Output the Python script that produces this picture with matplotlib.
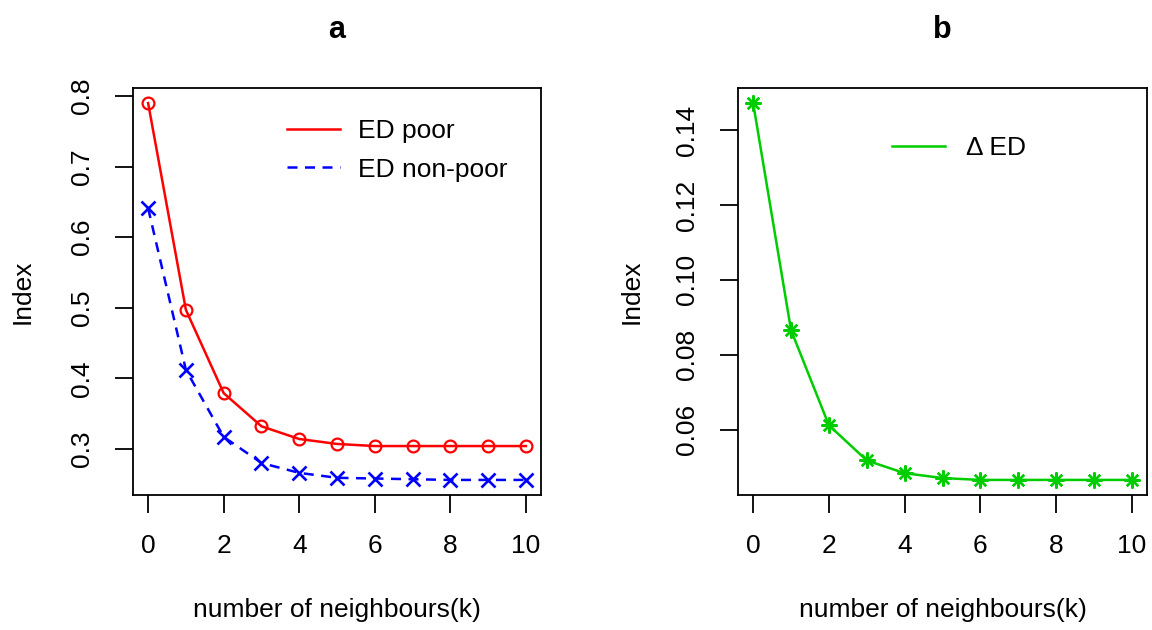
import matplotlib
matplotlib.use("Agg")
import matplotlib.pyplot as plt
import numpy as np

plt.rcParams['font.family'] = ['Liberation Sans', 'DejaVu Sans']

k = list(range(11))
ed_poor = [0.790, 0.497, 0.379, 0.332, 0.314, 0.307, 0.304, 0.304, 0.304, 0.304, 0.304]
ed_nonpoor = [0.641, 0.412, 0.317, 0.280, 0.266, 0.259, 0.258, 0.257, 0.256, 0.256, 0.256]
delta_ed = [0.1472, 0.0866, 0.0612, 0.0518, 0.0484, 0.0471, 0.0466, 0.0466, 0.0466, 0.0466, 0.0466]

xticks = [0, 2, 4, 6, 8, 10]
yticks_a = [0.3, 0.4, 0.5, 0.6, 0.7, 0.8]
yticks_b = [0.06, 0.08, 0.10, 0.12, 0.14]

W, H = 1152, 630
fig = plt.figure(figsize=(W/100, H/100), dpi=100)
axA = fig.add_axes([133/W, 1-495/H, 408/W, 407/H])
axB = fig.add_axes([738/W, 1-495/H, 409/W, 407/H])

fs = 19

def rpad(vals):
    lo, hi = min(vals), max(vals)
    p = (hi - lo) * 0.04
    return lo - p, hi + p

axA.plot(k, ed_poor, color='#FF0000', lw=1.8, marker='o', ms=8.5, mfc='none', mew=1.6, label='ED poor')
axA.plot(k, ed_nonpoor, color='#0000FF', lw=1.8, ls=(0, (4, 3)), marker='x', ms=10.5, mew=1.9, label='ED non-poor')
axA.set_xlim(rpad(k))
axA.set_ylim(rpad(ed_poor + ed_nonpoor))
axA.set_xticks(xticks)
axA.set_yticks(yticks_a)
axA.set_yticklabels([f"{v:.1f}" for v in yticks_a], rotation=90, va='center')
axA.set_ylabel('Index', fontsize=fs)
axA.yaxis.set_label_coords((23-133)/408, 0.5)
axA.set_xlabel('number of neighbours(k)', fontsize=fs)
axA.xaxis.set_label_coords(0.5, (495-610)/407)
axA.xaxis.label.set_va('center')
axA.yaxis.label.set_va('center')
legA = axA.legend(loc='upper right', frameon=False, fontsize=fs, handlelength=2.0,
                  handletextpad=0.7, bbox_to_anchor=((508-133)/408, (495-119)/407),
                  borderaxespad=0, borderpad=0, labelspacing=0.55)
for h in legA.legend_handles:
    h.set_marker('')

axB.plot(k, delta_ed, color='#00CD00', lw=1.8, marker=(8, 2, 0), ms=11.5, mew=1.7, label='Δ ED')
axB.set_xlim(rpad(k))
axB.set_ylim(rpad(delta_ed))
axB.set_xticks(xticks)
axB.set_yticks(yticks_b)
axB.set_yticklabels([f"{v:.2f}" for v in yticks_b], rotation=90, va='center')
axB.set_ylabel('Index', fontsize=fs)
axB.yaxis.set_label_coords((632-738)/409, 0.5)
axB.set_xlabel('number of neighbours(k)', fontsize=fs)
axB.xaxis.set_label_coords(0.5, (495-610)/407)
axB.xaxis.label.set_va('center')
axB.yaxis.label.set_va('center')
legB = axB.legend(loc='upper left', frameon=False, fontsize=fs, handlelength=2.0,
                  handletextpad=0.8, bbox_to_anchor=((892-738)/409, (495-136)/407),
                  borderaxespad=0, borderpad=0)
for h in legB.legend_handles:
    h.set_marker('')

fig.text(337/W, 1-30/H, 'a', fontsize=22, fontweight='bold', ha='center', va='center')
fig.text(942/W, 1-30/H, 'b', fontsize=22, fontweight='bold', ha='center', va='center')

for ax in (axA, axB):
    ax.tick_params(direction='out', length=13, width=1.3, labelsize=fs, pad=15)
    for s in ax.spines.values():
        s.set_linewidth(1.3)

fig.savefig('out.png', dpi=100)
